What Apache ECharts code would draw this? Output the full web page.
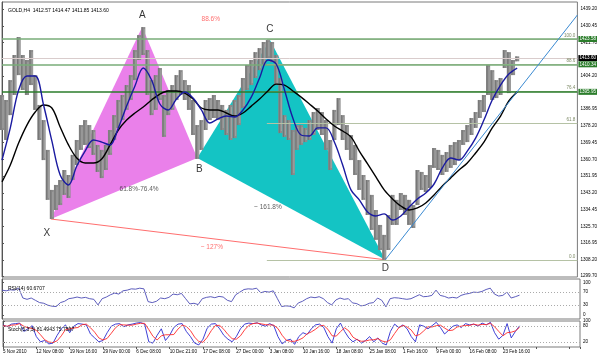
<!DOCTYPE html>
<html><head><meta charset="utf-8">
<script src="https://cdn.jsdelivr.net/npm/echarts@6/dist/echarts.min.js"></script>
<style>html,body{margin:0;padding:0;background:#fff}#c{width:600px;height:357px}</style>
</head><body><div id="c"></div>
<script>
// ---- data (bar index = H4 bar number from 5 Nov 2010 00:00) ----
const BAR_STEP = 4;   // one sampled price range every 4 H4 bars
const MA_STEP = 8;    // one moving-average reading every 8 bars
const candleHigh = [1394.3,1391.7,1402.1,1415.2,1424.6,1415.2,1412.6,1417.8,1404.7,1389.1,
1381.2,1365.6,1344.7,1347.3,1349.9,1355.1,1352.5,1363.0,1370.8,1378.6,
1381.2,1378.6,1376.0,1368.2,1365.6,1368.2,1376.0,1383.8,1391.7,1394.3,
1399.5,1404.7,1417.8,1425.6,1429.8,1417.8,1402.1,1404.7,1408.4,1394.3,
1396.9,1399.5,1404.7,1407.3,1402.1,1399.5,1391.7,1378.6,1381.2,1391.7,
1392.7,1394.3,1391.7,1389.1,1386.5,1389.1,1391.7,1394.3,1403.2,1410.0,
1412.6,1416.7,1418.8,1422.0,1423.0,1422.0,1415.2,1403.2,1383.8,1381.2,
1376.0,1378.6,1378.6,1377.1,1381.2,1385.4,1387.5,1385.4,1381.2,1370.8,
1386.5,1392.7,1383.8,1378.6,1373.4,1368.2,1360.3,1352.5,1349.9,1342.1,
1334.2,1326.4,1321.2,1331.6,1342.1,1339.5,1343.1,1342.1,1339.5,1336.8,
1355.1,1354.1,1352.5,1357.7,1366.6,1365.6,1363.0,1364.5,1368.2,1369.7,
1370.8,1376.0,1378.6,1382.3,1385.4,1391.7,1394.3,1410.0,1407.3,1402.1,
1403.2,1417.8,1416.7,1412.6,1414.5];
const candleLow = [1376.0,1370.8,1383.8,1394.3,1404.7,1396.9,1394.3,1399.5,1386.5,1370.8,
1360.3,1339.5,1329.5,1334.2,1336.8,1342.1,1340.5,1349.9,1357.7,1365.6,
1368.2,1366.6,1363.0,1354.1,1350.9,1355.1,1363.0,1370.8,1377.1,1381.2,
1386.5,1391.7,1402.1,1412.6,1415.2,1394.3,1383.8,1386.5,1391.7,1372.4,
1383.8,1386.5,1391.7,1394.3,1391.7,1386.5,1373.4,1360.9,1365.6,1376.0,
1381.2,1382.3,1381.2,1376.0,1373.4,1370.8,1371.8,1378.6,1387.5,1396.9,
1399.5,1403.2,1407.3,1410.0,1413.6,1411.5,1399.5,1374.4,1372.4,1370.8,
1352.5,1365.6,1368.2,1369.7,1370.8,1373.4,1376.0,1373.4,1365.6,1355.1,
1370.8,1378.6,1370.8,1365.6,1360.3,1352.5,1344.7,1339.5,1331.6,1323.8,
1318.6,1313.3,1308.2,1313.3,1326.4,1326.4,1334.2,1331.6,1326.4,1324.8,
1336.8,1344.7,1343.6,1345.7,1356.2,1355.1,1352.5,1354.1,1356.2,1357.7,
1360.3,1368.2,1369.7,1373.4,1377.1,1382.3,1385.4,1394.3,1391.7,1392.7,
1394.3,1408.4,1395.3,1404.7,1411.9];
const maFast = [1360.3,1377.1,1396.9,1404.2,1404.2,1389.1,1370.3,1352.5,1347.3,1357.2,
1365.0,1370.8,1369.7,1368.2,1377.1,1388.5,1399.0,1408.4,1402.1,1389.6,
1386.5,1392.2,1395.9,1392.7,1386.5,1379.7,1381.8,1383.3,1382.8,1386.5,
1393.2,1403.2,1412.6,1410.5,1396.9,1382.3,1373.4,1372.9,1377.1,1377.1,
1369.7,1357.7,1344.7,1339.5,1333.2,1331.1,1332.2,1329.0,1331.1,1335.8,
1340.0,1343.1,1347.8,1356.2,1361.4,1360.3,1365.0,1371.8,1381.2,1391.7,
1399.5,1405.3,1408.4];
const maSlow = [1348.9,1357.7,1369.2,1378.6,1385.4,1389.1,1387.5,1377.6,1368.2,1361.4,
1358.8,1358.8,1360.9,1368.2,1376.0,1381.2,1384.9,1388.0,1391.7,1394.8,
1396.4,1396.4,1395.3,1392.2,1387.5,1386.5,1386.5,1384.9,1383.3,1384.9,
1388.5,1392.2,1396.4,1400.0,1399.5,1396.4,1393.2,1389.6,1385.9,1381.8,
1378.1,1375.5,1372.4,1365.0,1358.3,1351.5,1344.7,1340.0,1336.3,1334.2,
1335.3,1337.9,1342.1,1346.8,1351.0,1355.1,1358.8,1364.0,1369.7,1377.1,
1383.3,1391.2,1395.9];
const rsiValues = [76,74,77,76,82,52,48,52,45,38,
36,30,27,26,38,42,50,52,55,52,
54,50,48,31,50,55,62,67,64,74,
76,80,79,82,80,41,38,42,52,50,
54,64,62,66,50,34,36,32,50,54,
56,53,57,55,45,41,62,70,78,80,
79,82,68,72,70,74,50,26,28,27,
22,37,42,50,55,53,56,50,38,31,
46,52,48,50,37,35,28,30,36,38,
52,45,25,50,53,52,50,48,50,56,
62,56,57,60,76,60,57,52,54,52,
60,64,66,70,69,72,78,82,64,58,
60,70,52,56,60.67];
const stochMain = [85,78,88,90,92,60,70,82,40,20,
25,12,15,45,70,85,55,80,90,88,
85,50,35,20,25,55,80,88,90,78,
85,88,92,94,88,20,15,45,70,25,
45,75,88,90,60,40,15,8,30,72,
88,90,70,45,30,20,40,70,88,92,
90,93,85,80,90,82,40,12,25,30,
10,40,55,48,70,85,88,75,40,15,
70,92,60,35,20,30,15,25,40,20,
35,15,8,60,88,75,85,70,40,20,
85,80,70,82,95,75,50,65,80,85,
75,90,85,88,80,92,85,95,55,30,
45,90,35,60,81.49];
const stochSignal = [82,80,84,85,90,80,74,71,64,47,
28,19,17,24,43,67,70,73,75,86,
88,74,57,35,27,33,53,74,86,85,
84,84,88,91,91,67,41,27,43,47,
47,48,69,84,79,63,38,21,18,37,
63,83,83,68,48,32,30,43,66,83,
90,92,89,86,85,84,71,45,26,22,
22,27,35,51,58,68,81,83,68,43,
42,59,74,62,38,28,22,23,27,28,
32,23,19,28,52,74,83,77,65,43,
48,62,78,77,82,84,73,63,65,77,
80,83,83,88,84,87,86,91,78,60,
43,55,57,62,75.76];
const timeLabels = ['5 Nov 2010','12 Nov 08:00','19 Nov 16:00','29 Nov 00:00','6 Dec 08:00','10 Dec 21:00','17 Dec 08:00','27 Dec 00:00','3 Jan 08:00','10 Jan 16:00','18 Jan 08:00','25 Jan 08:00','1 Feb 16:00','9 Feb 00:00','16 Feb 08:00','23 Feb 16:00'];
const BARS_PER_LABEL = 32;
const priceTicks = [1439.20,1430.45,1421.70,1404.20,1386.95,1378.20,1369.45,1360.70,1351.95,1343.20,1334.45,1325.70,1316.95,1308.20,1299.70];
const rsiTicks = [0,30,70,100];
const stochTicks = [20,80,100];
const patternNames = ['X','A','B','C','D'];
const patternBars = [47,135,188,258,369];
const patternPrices = [1329.5,1429.8,1361.4,1423.0,1308.2];
const ratioTexts = ['88.6%','61.8%-76.4%','~ 161.8%','~ 127%'];
const ratioBars = [201,132,256,202];
const ratioPrices = [1434.0,1345.2,1335.8,1314.9];
const fibNames = ['0.0','61.8','76.4','88.6','100.0'];
const fibPrices = [1308.20,1379.51,1396.35,1410.43,1423.58];
const fibStartBar = 255;
const hLinePrices = [1423.58,1410.34,1395.95];
const bidPrice = 1413.60;
const trendBars = [369,554];
const trendPrices = [1308.2,1436.1];
const LAST_BAR = 554;

// ---- styles ----
const FONT = 'Liberation Sans';
const small = 4.6;
const frame = '#7a7a7a';
const green = '#2b7d2b';
const lightGreen = '#78ad78';

const chart = echarts.init(document.getElementById('c'), null, {renderer:'canvas'});

function tri(a,b,c){return [patternBars[a],patternPrices[a],patternBars[b],patternPrices[b],patternBars[c],patternPrices[c]];}
const triColors = ['#ea80ea','#14c4c4'];

const letterOffsets = {X:[-4,14],A:[0,-12],B:[2,11],C:[0,-11],D:[0,8]};
const ratioColors = ['#ff4a4a','#333','#333','#ff4a4a'];

const hLineStyles = [
  {color:lightGreen,width:1.5},
  {color:lightGreen,width:1.5},
  {color:green,width:1.6}
];

const xAxes = [0,1,2].map(g=>({
  type:'value', gridIndex:g, min:0, max:LAST_BAR, interval:BARS_PER_LABEL,
  axisLine:{show:false}, splitLine:{show:false},
  axisTick:{show:g===2, length:2, inside:false, lineStyle:{color:'#555'}},
  axisLabel:{show:g===2, fontSize:small, color:'#000', align:'left', margin:2, fontFamily:FONT,
    formatter:v=>{const k=v/BARS_PER_LABEL; return Number.isInteger(k)&&timeLabels[k]?timeLabels[k]:'';}}
}));

function yAx(g,min,max,ticks,fmt){
  return {type:'value', gridIndex:g, position:'right', min:min, max:max,
    axisLine:{show:true,lineStyle:{color:'#555'}},
    axisTick:{show:true,length:2,customValues:ticks,lineStyle:{color:'#555'}},
    splitLine:{show:false},
    axisLabel:{customValues:ticks, formatter:fmt, fontSize:small, color:'#000', margin:3, fontFamily:FONT}};
}

const option = {
  animation:false,
  backgroundColor:'#fff',
  textStyle:{fontFamily:FONT},
  title:[
    {text:'GOLD,H4  1412.57 1414.47 1411.85 1413.60', left:3, top:3, textStyle:{fontSize:5, fontWeight:'normal', color:'#000', fontFamily:FONT}},
    {text:'RSI(14) 60.6707', left:3, top:281, textStyle:{fontSize:5, fontWeight:'normal', color:'#000', fontFamily:FONT}},
    {text:'Stoch(5,3,3) 81.4943 75.7597', left:3, top:322, textStyle:{fontSize:5, fontWeight:'normal', color:'#000', fontFamily:FONT}}
  ],
  grid:[
    {left:2,right:20,top:2,height:275,show:true,borderColor:frame,borderWidth:1},
    {left:2,right:20,top:279,height:40,show:true,borderColor:frame,borderWidth:1},
    {left:2,right:20,top:321,height:26,show:true,borderColor:frame,borderWidth:1}
  ],
  xAxis:xAxes,
  yAxis:[
    yAx(0,1299.2,1442.9,priceTicks,v=>v.toFixed(2)),
    yAx(1,-12,110,rsiTicks,v=>String(v)),
    yAx(2,0,100,stochTicks,v=>String(v))
  ],
  series:[
    // harmonic triangles
    {type:'custom', xAxisIndex:0, yAxisIndex:0, z:1, silent:true,
     data:[tri(0,1,2), tri(2,3,4)],
     renderItem:(params,api)=>{
       const pts=[0,1,2].map(k=>api.coord([api.value(2*k),api.value(2*k+1)]));
       return {type:'polygon', shape:{points:pts}, style:{fill:triColors[params.dataIndex]}};
     }},
    // fib levels + horizontal lines
    {type:'line', xAxisIndex:0, yAxisIndex:0, data:[], z:2, silent:true,
     markLine:{symbol:'none', silent:true, animation:false,
       data:[
         ...fibPrices.map((p,i)=>[
           {coord:[fibStartBar,p], lineStyle:{color:'#b5c2a5',width:1,type:'solid'},
            label:{show:true, position:'insideEndTop', formatter:fibNames[i], color:'#7d8a66', fontSize:small, distance:[2,1], fontFamily:FONT}},
           {coord:[LAST_BAR,p]}
         ]),
         {yAxis:bidPrice, lineStyle:{color:'#d9cccc',width:1,type:'solid'},
          label:{show:true, position:'end', formatter:bidPrice.toFixed(2), color:'#fff', backgroundColor:'#000', fontSize:small, padding:[1,1,0,1], distance:1, fontFamily:FONT}},
         ...hLinePrices.map((p,i)=>({yAxis:p, lineStyle:Object.assign({type:'solid'},hLineStyles[i]),
          label:{show:true, position:'end', formatter:p.toFixed(2), color:'#fff', backgroundColor:green, fontSize:small, padding:[1,1,0,1], distance:1, fontFamily:FONT}}))
       ]}},
    // X-D line
    {type:'line', xAxisIndex:0, yAxisIndex:0, z:3, symbol:'none', silent:true,
     data:[[patternBars[0],patternPrices[0]],[patternBars[4],patternPrices[4]]],
     lineStyle:{color:'#ff6e6e',width:1}},
    // price ranges (continuous band of sampled bar ranges)
    {type:'custom', xAxisIndex:0, yAxisIndex:0, z:4, silent:true,
     data:candleHigh.map((h,i)=>[i*BAR_STEP,candleLow[i],h]),
     encode:{x:0,y:[1,2]},
     renderItem:(params,api)=>{
       const top=api.coord([api.value(0),api.value(2)]);
       const bot=api.coord([api.value(0),api.value(1)]);
       const w=api.size([BAR_STEP,0])[0];
       return {type:'group', children:[
         {type:'rect', shape:{x:top[0]-w/2,y:top[1],width:w,height:Math.max(1,bot[1]-top[1])}, style:{fill:'#8c8c8c'}},
         {type:'line', shape:{x1:top[0]-w/4,y1:top[1],x2:top[0]-w/4,y2:bot[1]}, style:{stroke:'#6e6e6e',lineWidth:0.8}},
         {type:'line', shape:{x1:top[0]+w/4,y1:top[1]+2,x2:top[0]+w/4,y2:bot[1]-2}, style:{stroke:'#a8a8a8',lineWidth:0.8}}
       ]};
     }},
    // moving averages
    {type:'line', xAxisIndex:0, yAxisIndex:0, z:5, symbol:'none', smooth:0.35, silent:true,
     data:maSlow.map((v,i)=>[i*MA_STEP,v]), lineStyle:{color:'#000',width:1.4}},
    {type:'line', xAxisIndex:0, yAxisIndex:0, z:5, symbol:'none', smooth:0.35, silent:true,
     data:maFast.map((v,i)=>[i*MA_STEP,v]), lineStyle:{color:'#1a1aa0',width:1.4}},
    // trend line from D
    {type:'line', xAxisIndex:0, yAxisIndex:0, z:5, symbol:'none', silent:true,
     data:trendBars.map((b,i)=>[b,trendPrices[i]]), lineStyle:{color:'#3a8ad2',width:1}},
    // point letters
    {type:'scatter', xAxisIndex:0, yAxisIndex:0, z:6, symbolSize:1, itemStyle:{color:'rgba(0,0,0,0)'}, silent:true,
     data:patternNames.map((n,i)=>({name:n, value:[patternBars[i],patternPrices[i]],
       label:{show:true, position:'inside', offset:letterOffsets[n], formatter:n, color:'#000', fontSize:10, fontFamily:FONT}}))},
    // ratio texts
    {type:'scatter', xAxisIndex:0, yAxisIndex:0, z:6, symbolSize:1, itemStyle:{color:'rgba(0,0,0,0)'}, silent:true,
     data:ratioTexts.map((t,i)=>({name:t, value:[ratioBars[i],ratioPrices[i]],
       label:{show:true, position:'inside', formatter:t, color:ratioColors[i], fontSize:6.5, fontFamily:FONT}}))},
    // RSI
    {type:'line', xAxisIndex:1, yAxisIndex:1, symbol:'none', silent:true,
     data:rsiValues.map((v,i)=>[i*BAR_STEP,v]), lineStyle:{color:'#4a4ab4',width:0.9},
     markLine:{symbol:'none', silent:true, label:{show:false},
       lineStyle:{color:'#aaa',type:[1,2],width:1}, data:[{yAxis:70},{yAxis:30}]}},
    // Stochastic
    {type:'line', xAxisIndex:2, yAxisIndex:2, symbol:'none', silent:true,
     data:stochMain.map((v,i)=>[i*BAR_STEP,v]), lineStyle:{color:'#2a2ad0',width:0.9},
     markLine:{symbol:'none', silent:true, label:{show:false},
       lineStyle:{color:'#aaa',type:[1,2],width:1}, data:[{yAxis:80},{yAxis:20}]}},
    {type:'line', xAxisIndex:2, yAxisIndex:2, symbol:'none', silent:true,
     data:stochSignal.map((v,i)=>[i*BAR_STEP,v]), lineStyle:{color:'#ff2a2a',width:0.9}}
  ]
};
chart.setOption(option);
</script></body></html>
